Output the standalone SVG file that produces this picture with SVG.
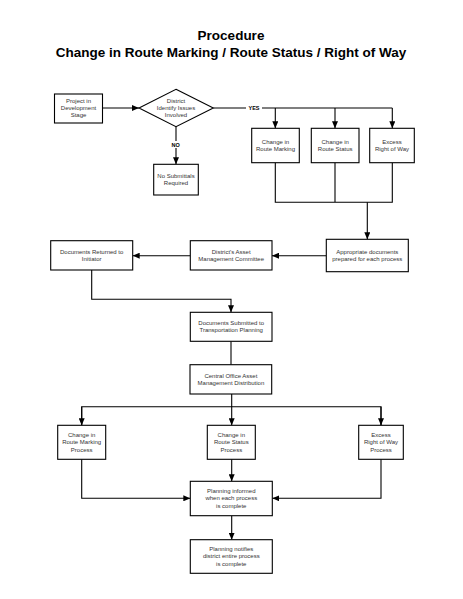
<svg xmlns="http://www.w3.org/2000/svg" width="463" height="599" viewBox="0 0 463 599">
<style>
.box{fill:#fff;stroke:#000;stroke-width:1.1}
.t{font-family:"Liberation Sans",Arial,sans-serif;font-size:6px;fill:#333;text-anchor:middle}
.lbl{font-family:"Liberation Sans",Arial,sans-serif;font-size:5.5px;font-weight:bold;fill:#000;text-anchor:middle}
.title{font-family:"Liberation Sans",Arial,sans-serif;font-size:13.5px;font-weight:bold;fill:#000;text-anchor:middle}
.c{fill:none;stroke:#000;stroke-width:1.1}
.c.a{marker-end:url(#ah)}
</style>
<defs>
<marker id="ah" viewBox="0 0 7 6" refX="7" refY="3" markerWidth="7" markerHeight="6" markerUnits="userSpaceOnUse" orient="auto">
<path d="M0,0 L7,3 L0,6 Z" fill="#000"/>
</marker>
</defs>
<rect width="463" height="599" fill="#fff"/>
<text class="title" x="231" y="40">Procedure</text>
<text class="title" x="231" y="57">Change in Route Marking / Route Status / Right of Way</text>

<g id="connectors">
<path class="c a" d="M102.5,108 L139,108"/>
<path class="c" d="M213.3,108 L246,108 M262,108 L392.3,108"/>
<path class="c a" d="M275.3,108 L275.3,128.3"/>
<path class="c a" d="M335,108 L335,128.3"/>
<path class="c a" d="M392.3,108 L392.3,128.3"/>
<path class="c a" d="M176,126.7 L176,164.3"/>
<path class="c" d="M275.3,162.7 L275.3,202.3 L392.3,202.3 L392.3,162.7 M335,162.7 L335,202.3"/>
<path class="c a" d="M367.3,202.3 L367.3,239.3"/>
<path class="c a" d="M326.3,255.7 L272,255.7"/>
<path class="c a" d="M190.3,255.7 L132.7,255.7"/>
<path class="c a" d="M91.7,270 L91.7,299.3 L231,299.3 L231,312.3"/>
<path class="c" d="M231,341.3 L231,364.7"/>
<path class="c" d="M231.7,394 L231.7,406.7 M81.7,425.3 L81.7,406.7 L381,406.7 L381,425.3"/>
<path class="c a" d="M81.7,406.7 L81.7,425.3"/>
<path class="c a" d="M231.7,406.7 L231.7,425.3"/>
<path class="c a" d="M381,406.7 L381,425.3"/>
<path class="c a" d="M231.7,459.3 L231.7,481.3"/>
<path class="c a" d="M81.7,459.3 L81.7,498.3 L190.3,498.3"/>
<path class="c a" d="M381,459.3 L381,498.3 L272.3,498.3"/>
<path class="c a" d="M231.7,515.7 L231.7,539.7"/>
<text class="lbl" x="254" y="110">YES</text>
<rect x="169" y="141" width="14" height="7" fill="#fff"/>
<text class="lbl" x="175.7" y="147.3">NO</text>
</g>

<g id="project">
<rect class="box" x="54.5" y="94" width="48" height="29"/>
<text class="t" x="78.5" y="102.8">Project in</text>
<text class="t" x="78.5" y="110">Development</text>
<text class="t" x="78.5" y="117.2">Stage</text>
</g>
<g id="decision">
<path class="box" d="M176,89.3 L213.3,108 L176,126.7 L139,108 Z"/>
<text class="t" x="176" y="102.8">District</text>
<text class="t" x="176" y="110">Identify Issues</text>
<text class="t" x="176" y="117.2">Involved</text>
</g>
<g id="nosub">
<rect class="box" x="153.7" y="164.3" width="44.6" height="30.7"/>
<text class="t" x="176" y="177.8">No Submittals</text>
<text class="t" x="176" y="185.1">Required</text>
</g>
<g id="crm">
<rect class="box" x="251.7" y="128.3" width="47.6" height="34.4"/>
<text class="t" x="275.5" y="143.8">Change in</text>
<text class="t" x="275.5" y="151.1">Route Marking</text>
</g>
<g id="crs">
<rect class="box" x="311.3" y="128.3" width="47.7" height="34.4"/>
<text class="t" x="335.2" y="143.8">Change in</text>
<text class="t" x="335.2" y="151.1">Route Status</text>
</g>
<g id="erw">
<rect class="box" x="369.7" y="128.3" width="44.6" height="34.4"/>
<text class="t" x="392" y="143.8">Excess</text>
<text class="t" x="392" y="151.1">Right of Way</text>
</g>
<g id="appdocs">
<rect class="box" x="326.3" y="239.3" width="82" height="32.4"/>
<text class="t" x="367.3" y="253.8">Appropriate documents</text>
<text class="t" x="367.3" y="261.1">prepared for each process</text>
</g>
<g id="damc">
<rect class="box" x="190.3" y="240.7" width="81.7" height="29.3"/>
<text class="t" x="231.2" y="253.8">District's Asset</text>
<text class="t" x="231.2" y="261.1">Management Committee</text>
</g>
<g id="docret">
<rect class="box" x="50.7" y="240.7" width="82" height="29.3"/>
<text class="t" x="91.7" y="253.8">Documents Returned to</text>
<text class="t" x="91.7" y="261.1">Initiator</text>
</g>
<g id="docsub">
<rect class="box" x="190.3" y="312.3" width="81.7" height="29"/>
<text class="t" x="231.2" y="324.8">Documents Submitted to</text>
<text class="t" x="231.2" y="332.1">Transportation Planning</text>
</g>
<g id="coamd">
<rect class="box" x="190" y="364.7" width="81.7" height="29.3"/>
<text class="t" x="230.9" y="377.8">Central Office Asset</text>
<text class="t" x="230.9" y="385.1">Management Distribution</text>
</g>
<g id="crmp">
<rect class="box" x="57.7" y="425.3" width="48" height="34"/>
<text class="t" x="81.7" y="437.1">Change in</text>
<text class="t" x="81.7" y="444.4">Route Marking</text>
<text class="t" x="81.7" y="451.7">Process</text>
</g>
<g id="crsp">
<rect class="box" x="207.3" y="425.3" width="48" height="34"/>
<text class="t" x="231.3" y="437.1">Change in</text>
<text class="t" x="231.3" y="444.4">Route Status</text>
<text class="t" x="231.3" y="451.7">Process</text>
</g>
<g id="erwp">
<rect class="box" x="358.7" y="425.3" width="44.6" height="34"/>
<text class="t" x="381" y="437.1">Excess</text>
<text class="t" x="381" y="444.4">Right of Way</text>
<text class="t" x="381" y="451.7">Process</text>
</g>
<g id="pinf">
<rect class="box" x="190.3" y="481.3" width="82" height="34.4"/>
<text class="t" x="231.3" y="493.1">Planning informed</text>
<text class="t" x="231.3" y="500.4">when each process</text>
<text class="t" x="231.3" y="507.7">is complete</text>
</g>
<g id="pnot">
<rect class="box" x="190.3" y="539.7" width="82" height="33.6"/>
<text class="t" x="231.3" y="551.1">Planning notifies</text>
<text class="t" x="231.3" y="558.4">district entire process</text>
<text class="t" x="231.3" y="565.7">is complete</text>
</g>
</svg>
